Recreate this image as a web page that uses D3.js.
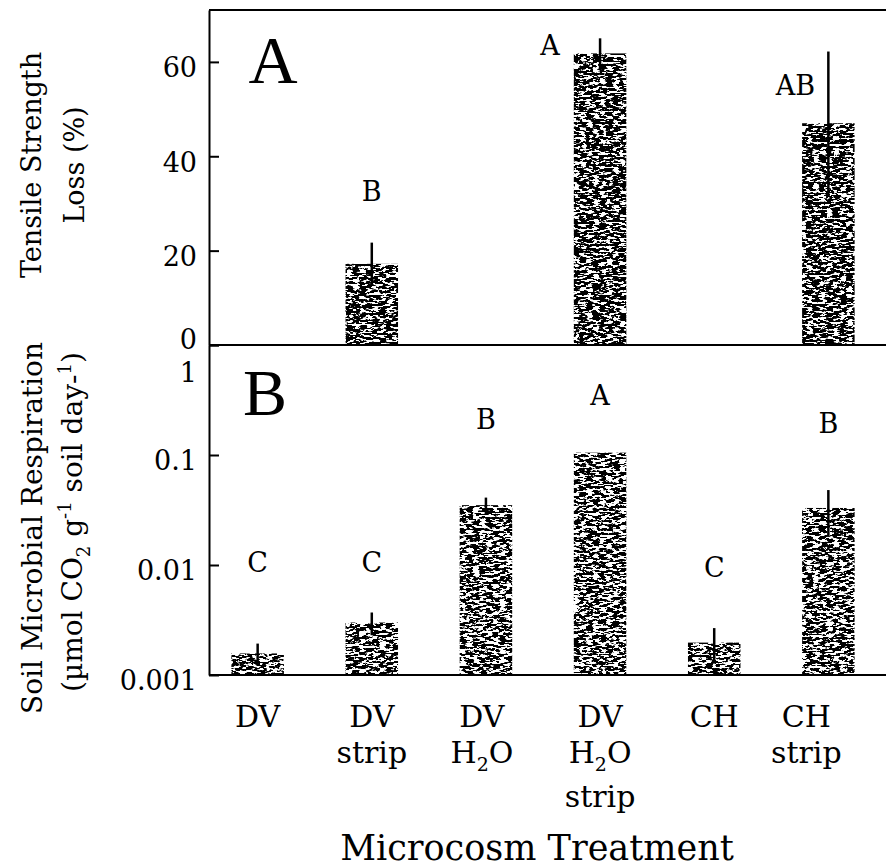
<!DOCTYPE html>
<html>
<head>
<meta charset="utf-8">
<script src="https://cdn.jsdelivr.net/npm/d3@7"></script>
<style>
  body { margin: 0; background: #fff; }
  svg { display: block; }
</style>
</head>
<body>
<script>
// treatments, in plot order
const categories = ["DV", "DV strip", "DV H2O", "DV H2O strip", "CH", "CH strip"];

// panel A: tensile strength loss (%)
const tensileLoss = [0, 17.2, 0, 61.8, 0, 47];
const tensileSE = [0, 4.5, 0, 3.2, 0, 15.2];
const tensileLetters = ["", "B", "", "A", "", "AB"];
const tensileLetterAt = [0, 30.6, 0, 61.5, 0, 53];
const tensileTicks = [0, 20, 40, 60];

// panel B: soil microbial respiration (log scale)
const respiration = [0.00157, 0.0030, 0.035, 0.105, 0.00197, 0.033];
const respirationSE = [0.00036, 0.0007, 0.006, 0, 0.0007, 0.015];
const respLetters = ["C", "C", "B", "A", "C", "B"];
const respLetterAt = [0.0086, 0.0086, 0.172, 0.284, 0.0078, 0.158];
const respTicks = [0.001, 0.01, 0.1, 1];

const width = 886, height = 868;
const left = 209, right = 886, topY = 10, midY = 345, botY = 675;
const serif = "DejaVu Serif";
const letterShift = [0, 0, 0, -50, 0, -33]; // letters moved off the error bars
const labelShift = [0, 0, -4, 0, 0, -22];

const svg = d3.select("body").append("svg")
  .attr("width", width)
  .attr("height", height)
  .style("font-family", serif);

// speckled ink fill, like the printed bars
const defs = svg.append("defs");
function grain(id, offset, seed) {
  const f = defs.append("filter").attr("id", id)
    .attr("x", 0).attr("y", 0).attr("width", 1).attr("height", 1);
  f.append("feTurbulence").attr("type", "fractalNoise")
    .attr("baseFrequency", "0.15 0.45").attr("numOctaves", 3)
    .attr("seed", seed).attr("result", "noise");
  f.append("feColorMatrix").attr("in", "noise").attr("type", "matrix")
    .attr("values", `0 0 0 0 0  0 0 0 0 0  0 0 0 0 0  -20 0 0 0 ${offset}`)
    .attr("result", "ink");
  f.append("feComposite").attr("in", "ink").attr("in2", "SourceGraphic").attr("operator", "in");
}
grain("grainTop", 11.2, 4);
grain("grainBot", 10.8, 9);

const x = d3.scaleBand()
  .domain(categories)
  .range([204, 882])
  .paddingInner(0.54)
  .paddingOuter(0.24);

const yTop = d3.scaleLinear().domain([0, 71]).range([midY, topY]);
const yBot = d3.scaleLog().domain([0.001, 1]).range([botY, midY]);

const topData = categories.map((c, i) => ({ c, v: tensileLoss[i], se: tensileSE[i], l: tensileLetters[i], ly: tensileLetterAt[i], dx: letterShift[i] }));
const botData = categories.map((c, i) => ({ c, v: respiration[i], se: respirationSE[i], l: respLetters[i], ly: respLetterAt[i], dx: 0 }));

// bars
svg.append("g")
  .selectAll("rect")
  .data(topData.filter(d => d.v > 0))
  .join("rect")
  .attr("x", d => x(d.c))
  .attr("y", d => yTop(d.v))
  .attr("width", x.bandwidth())
  .attr("height", d => yTop(0) - yTop(d.v))
  .attr("fill", "#000")
  .attr("filter", "url(#grainTop)");

svg.append("g")
  .selectAll("rect")
  .data(botData)
  .join("rect")
  .attr("x", d => x(d.c))
  .attr("y", d => yBot(d.v))
  .attr("width", x.bandwidth())
  .attr("height", d => yBot(0.001) - yBot(d.v))
  .attr("fill", "#000")
  .attr("filter", "url(#grainBot)");

// error bars
function errors(data, y, lo) {
  svg.append("g")
    .selectAll("line")
    .data(data.filter(d => d.se > 0))
    .join("line")
    .attr("x1", d => x(d.c) + x.bandwidth() / 2)
    .attr("x2", d => x(d.c) + x.bandwidth() / 2)
    .attr("y1", d => y(Math.max(d.v - d.se, lo)))
    .attr("y2", d => y(d.v + d.se))
    .attr("stroke", "#000")
    .attr("stroke-width", 2.5);
}
errors(topData, yTop, 0);
errors(botData, yBot, 0.001);

// significance letters
function letters(data, y) {
  svg.append("g")
    .selectAll("text")
    .data(data.filter(d => d.l))
    .join("text")
    .attr("x", d => x(d.c) + x.bandwidth() / 2 + d.dx)
    .attr("y", d => y(d.ly))
    .attr("text-anchor", "middle")
    .style("font-size", "27px")
    .text(d => d.l);
}
letters(topData, yTop);
letters(botData, yBot);

// axes
const axTop = svg.append("g")
  .attr("transform", `translate(${left},0)`)
  .call(d3.axisLeft(yTop).tickValues(tensileTicks).tickSizeInner(-10).tickSizeOuter(0).tickPadding(12));
const axBot = svg.append("g")
  .attr("transform", `translate(${left},0)`)
  .call(d3.axisLeft(yBot).tickValues(respTicks).tickFormat(d => String(d)).tickSizeInner(-10).tickSizeOuter(0).tickPadding(12));

[axTop, axBot].forEach(ax => {
  ax.selectAll("path, line").attr("stroke", "#000").attr("stroke-width", 2);
  ax.selectAll("text")
    .attr("font-family", serif)
    .style("font-size", "27px")
    .attr("fill", "#000")
    .attr("dy", "0.55em");
});
axTop.selectAll(".tick text").filter(d => d === 0).attr("dy", "0.12em");
axBot.selectAll(".tick text").filter(d => d === 1).attr("dy", "1.35em");

// frame lines
const frame = svg.append("g").attr("stroke", "#000").attr("stroke-width", 2);
[topY, midY, botY].forEach(yy => {
  frame.append("line").attr("x1", left).attr("x2", right).attr("y1", yy).attr("y2", yy);
});

// category labels on the bottom axis
const axX = svg.append("g")
  .attr("transform", `translate(0,${botY})`)
  .call(d3.axisBottom(x).tickSize(0).tickFormat(""));
axX.select(".domain").remove();
const lineY = [52, 88, 132];
axX.selectAll(".tick").each(function (d, i) {
  const t = d3.select(this).append("text")
    .attr("fill", "#000")
    .attr("font-family", serif)
    .style("font-size", "30px")
    .attr("text-anchor", "middle");
  d.split(" ").forEach((word, k) => {
    const row = t.append("tspan").attr("x", labelShift[i]).attr("y", lineY[k]);
    if (word === "H2O") {
      row.text("H");
      t.append("tspan").attr("dy", 8).style("font-size", "19px").text("2");
      t.append("tspan").attr("dy", -8).text("O");
    } else {
      row.text(word);
    }
  });
});

svg.append("text")
  .attr("x", 537)
  .attr("y", 860)
  .attr("text-anchor", "middle")
  .style("font-size", "35px")
  .text("Microcosm Treatment");

// y titles
svg.append("text")
  .attr("transform", "translate(41,165) rotate(-90)")
  .attr("text-anchor", "middle")
  .style("font-size", "27px")
  .text("Tensile Strength");
svg.append("text")
  .attr("transform", "translate(84,165) rotate(-90)")
  .attr("text-anchor", "middle")
  .style("font-size", "27px")
  .text("Loss (%)");

svg.append("text")
  .attr("transform", "translate(42,528) rotate(-90)")
  .attr("text-anchor", "middle")
  .style("font-size", "28px")
  .text("Soil Microbial Respiration");

const unit = svg.append("text")
  .attr("transform", "translate(82,522) rotate(-90)")
  .attr("text-anchor", "middle")
  .style("font-size", "28px");
unit.append("tspan").text("(\u00b5mol CO");
unit.append("tspan").attr("dy", 8).style("font-size", "18px").text("2");
unit.append("tspan").attr("dy", -8).text(" g");
unit.append("tspan").attr("dy", -11).style("font-size", "18px").text("-1");
unit.append("tspan").attr("dy", 11).text(" soil day-");
unit.append("tspan").attr("dy", -11).style("font-size", "18px").text("1");
unit.append("tspan").attr("dy", 11).text(")");

// panel letters
svg.append("text")
  .attr("x", 273).attr("y", 83)
  .attr("text-anchor", "middle")
  .attr("font-family", "Liberation Serif")
  .style("font-size", "68px")
  .text("A");
svg.append("text")
  .attr("x", 265).attr("y", 415)
  .attr("text-anchor", "middle")
  .attr("font-family", "Liberation Serif")
  .style("font-size", "66px")
  .text("B");
</script>
</body>
</html>
